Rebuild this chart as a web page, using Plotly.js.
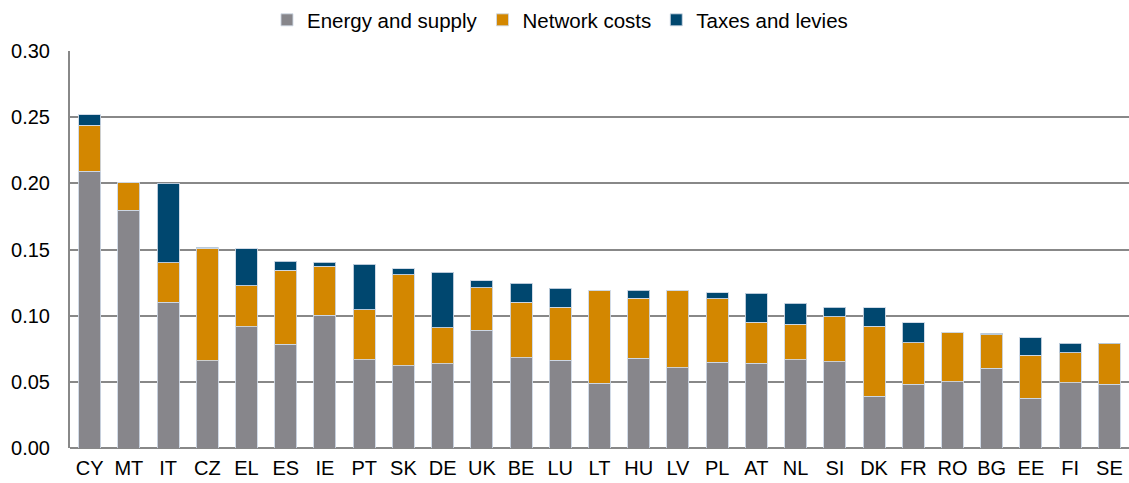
<!DOCTYPE html>
<html>
<head>
<meta charset="utf-8">
<script src="https://cdn.plot.ly/plotly-3.0.1.min.js"></script>
<style>
  html, body { margin: 0; padding: 0; background: #fff; }
  #chart { width: 1129px; height: 483px; }
</style>
</head>
<body>
<div id="chart"></div>
<script>
const countries = ["CY","MT","IT","CZ","EL","ES","IE","PT","SK","DE","UK","BE","LU","LT","HU","LV","PL","AT","NL","SI","DK","FR","RO","BG","EE","FI","SE"];
const energySupply = [0.209,0.1795,0.110,0.066,0.0915,0.0785,0.1002,0.0668,0.0623,0.0638,0.0888,0.0683,0.0665,0.049,0.068,0.0608,0.0648,0.0642,0.0668,0.0653,0.0392,0.048,0.050,0.0602,0.0375,0.0492,0.048];
const networkCosts = [0.035,0.0215,0.030,0.0848,0.031,0.056,0.0373,0.0377,0.0687,0.0272,0.0324,0.0417,0.040,0.0703,0.0453,0.058,0.048,0.0308,0.0267,0.0337,0.0528,0.0315,0.0375,0.0255,0.0325,0.0228,0.0308];
const taxesLevies = [0.008,0,0.060,0.001,0.028,0.0068,0.003,0.0343,0.0043,0.0418,0.0051,0.0145,0.0143,0,0.006,0,0.0047,0.022,0.016,0.0072,0.0138,0.015,0,0.001,0.0135,0.007,0.0005];
const yTickVals = [0,0.05,0.10,0.15,0.20,0.25,0.30];
const yTickText = ["0.00","0.05","0.10","0.15","0.20","0.25","0.30"];

const outline = {color: 'rgba(205,215,228,0.9)', width: 1};
const traces = [
  {type:'bar', name:'Energy and supply', x:countries, y:energySupply, marker:{color:'#87868b', line:outline}},
  {type:'bar', name:'Network costs', x:countries, y:networkCosts, marker:{color:'#d38700', line:outline}},
  {type:'bar', name:'Taxes and levies', x:countries, y:taxesLevies, marker:{color:'#00476f', line:outline}}
];

const layout = {
  width: 1129, height: 483,
  margin: {l:70, r:0, t:50, b:35},
  barmode: 'stack',
  bargap: 0.44,
  paper_bgcolor: '#fff', plot_bgcolor: '#fff',
  font: {family: 'Liberation Sans, Arial, sans-serif', size: 20, color: '#000'},
  showlegend: true,
  legend: {orientation:'h', x:0.186, xanchor:'left', y:1.078, yanchor:'middle',
           traceorder:'normal', font:{size:20.5}, itemwidth:30, bgcolor:'rgba(0,0,0,0)'},
  xaxis: {type:'category', showgrid:false, ticks:'', showline:false, zeroline:false,
          tickfont:{size:20}, ticklabelstandoff:6, fixedrange:true},
  yaxis: {range:[0,0.30], tickvals:yTickVals, ticktext:yTickText, showgrid:true,
          gridcolor:'#888888', gridwidth:2, zeroline:true, zerolinecolor:'#888888', zerolinewidth:2,
          showline:true, linecolor:'#888888', linewidth:2, ticks:'', tickfont:{size:20},
          ticklabelstandoff:14, fixedrange:true}
};

Plotly.newPlot('chart', traces, layout, {displayModeBar:false, staticPlot:true});
</script>
</body>
</html>
